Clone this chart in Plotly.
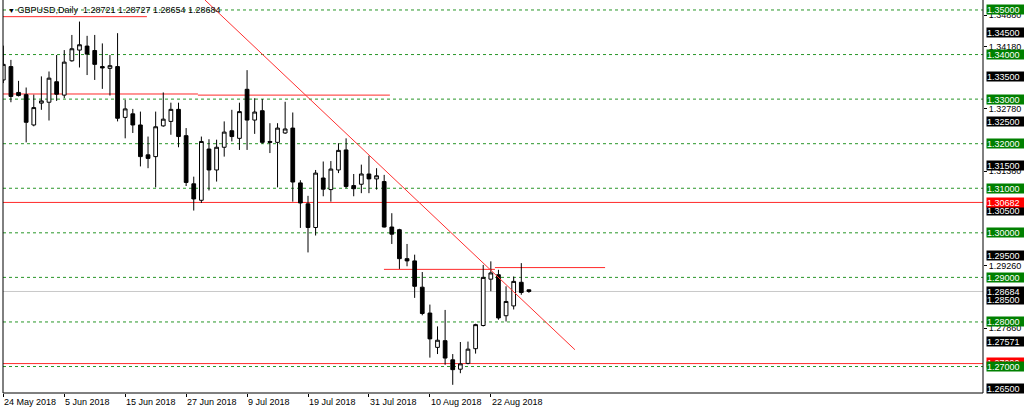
import plotly.graph_objects as go
import pandas as pd

# ---------------- data ----------------
dates = pd.bdate_range("2018-05-24", periods=70)

opens = [1.3343, 1.3373, 1.3315, 1.3310, 1.3242, 1.3291, 1.3293, 1.3339, 1.3309, 1.3386,
         1.3410, 1.3419, 1.3409, 1.3373, 1.3369, 1.3373, 1.3259, 1.3267, 1.3242, 1.3175,
         1.3171, 1.3240, 1.3250, 1.3277, 1.3218, 1.3110, 1.3073, 1.3188, 1.3141, 1.3192,
         1.3229, 1.3212, 1.3322, 1.3253, 1.3274, 1.3205, 1.3203, 1.3224, 1.3235, 1.3112,
         1.3065, 1.3012, 1.3123, 1.3097, 1.3141, 1.3186, 1.3106, 1.3109, 1.3132, 1.3121,
         1.3115, 1.3013, 1.3007, 1.2942, 1.2937, 1.2878, 1.2820, 1.2743, 1.2758, 1.2715,
         1.2694, 1.2707, 1.2740, 1.2792, 1.2896, 1.2906, 1.2814, 1.2836, 1.2889, 1.28721]
highs = [1.3420, 1.3388, 1.3341, 1.3326, 1.3310, 1.3351, 1.3362, 1.3399, 1.3410, 1.3444,
         1.3474, 1.3442, 1.3444, 1.3425, 1.3399, 1.3448, 1.3298, 1.3278, 1.3272, 1.3216,
         1.3272, 1.3315, 1.3292, 1.3292, 1.3235, 1.3126, 1.3216, 1.3210, 1.3209, 1.3250,
         1.3276, 1.3292, 1.3365, 1.3302, 1.3300, 1.3246, 1.3246, 1.3294, 1.3270, 1.3118,
         1.3083, 1.3141, 1.3160, 1.3161, 1.3201, 1.3212, 1.3132, 1.3153, 1.3173, 1.3145,
         1.3130, 1.3044, 1.3009, 1.2975, 1.2951, 1.2912, 1.2839, 1.2790, 1.2827, 1.2728,
         1.2755, 1.2756, 1.2796, 1.2928, 1.2936, 1.2917, 1.2880, 1.2902, 1.2932, 1.28727]
lows = [1.3336, 1.3293, 1.3306, 1.3203, 1.3239, 1.3276, 1.3252, 1.3296, 1.3302, 1.3384,
        1.3371, 1.3354, 1.3343, 1.3323, 1.3308, 1.3250, 1.3212, 1.3224, 1.3149, 1.3145,
        1.3102, 1.3238, 1.3220, 1.3192, 1.3105, 1.3050, 1.3067, 1.3095, 1.3115, 1.3171,
        1.3205, 1.3186, 1.3186, 1.3222, 1.3200, 1.3179, 1.3102, 1.3222, 1.3070, 1.3011,
        1.2956, 1.2994, 1.3082, 1.3070, 1.3134, 1.3100, 1.3082, 1.3089, 1.3089, 1.3097,
        1.3012, 1.2975, 1.2919, 1.2925, 1.2854, 1.2815, 1.2720, 1.2728, 1.2704, 1.2659,
        1.2685, 1.2705, 1.2729, 1.2790, 1.2869, 1.2805, 1.2801, 1.2828, 1.2861, 1.28654]
closes = [1.3378, 1.3306, 1.3308, 1.3248, 1.3281, 1.3296, 1.3347, 1.3311, 1.3383, 1.3413,
          1.3422, 1.3401, 1.3378, 1.3370, 1.3375, 1.3257, 1.3278, 1.3242, 1.3171, 1.3167,
          1.3238, 1.3255, 1.3277, 1.3216, 1.3113, 1.3076, 1.3205, 1.3141, 1.3192, 1.3226,
          1.3216, 1.3272, 1.3253, 1.3271, 1.3203, 1.3203, 1.3235, 1.3233, 1.3114, 1.3067,
          1.3012, 1.3134, 1.3098, 1.3143, 1.3185, 1.3104, 1.3099, 1.3132, 1.3121, 1.3128,
          1.3013, 1.2997, 1.2942, 1.2937, 1.2880, 1.2819, 1.2762, 1.2759, 1.2719, 1.2693,
          1.2706, 1.2739, 1.2794, 1.2900, 1.2910, 1.2809, 1.2846, 1.2891, 1.2866, 1.28684]

bar_index = list(range(len(opens)))
label_bars = [0, 8, 16, 24, 32, 40, 48, 56, 64]
label_texts = [f"{dates[i].day} {dates[i].strftime('%b %Y')}" for i in label_bars]

green_levels = [1.35, 1.34, 1.33, 1.32, 1.31, 1.30, 1.29, 1.28, 1.27]
black_labels = [1.345, 1.335, 1.325, 1.315, 1.305, 1.295, 1.285, 1.265, 1.27571, 1.28684]
scale_labels = [1.3488, 1.3418, 1.3278, 1.3138, 1.2926, 1.2786]
red_labels = [1.2709, 1.30682]
red_full_levels = [1.30682, 1.27066]
bid_level = 1.28684
red_segments = [(-1.0, 18.85, 1.3485), (-1.0, 25.55, 1.33115), (25.55, 50.75, 1.3309),
                (49.97, 64.54, 1.2918), (64.54, 79.0, 1.2922)]
trend_bars = [26.47, 75.04]
trend_prices = [1.35224, 1.27377]

title_text = "GBPUSD,Daily  1.28721 1.28727 1.28654 1.28684"

y_range = [1.26406, 1.35224]
x_range = [-0.04, 128.61]

FONT = "Liberation Sans, Arial, sans-serif"

# ---------------- figure ----------------
fig = go.Figure()

shapes = []
for lv in green_levels:
    shapes.append(dict(type="line", xref="paper", x0=0, x1=1, yref="y", y0=lv, y1=lv,
                       line=dict(color="rgb(40,150,40)", width=1, dash="3px,3px"), layer="below"))
shapes.append(dict(type="line", xref="paper", x0=0, x1=1, yref="y", y0=bid_level, y1=bid_level,
                   line=dict(color="#c8c8c8", width=1), layer="below"))
for lv in red_full_levels:
    shapes.append(dict(type="line", xref="paper", x0=0, x1=1, yref="y", y0=lv, y1=lv,
                       line=dict(color="#ff2a2a", width=1), layer="below"))
for x0, x1, lv in red_segments:
    shapes.append(dict(type="line", xref="x", x0=x0, x1=x1, yref="y", y0=lv, y1=lv,
                       line=dict(color="#ff2a2a", width=1), layer="below"))
# frame
shapes.append(dict(type="line", xref="paper", yref="paper", x0=0, x1=0, y0=0, y1=1,
                   line=dict(color="black", width=1)))
shapes.append(dict(type="line", xref="paper", yref="paper", x0=0, x1=1, y0=0, y1=0,
                   line=dict(color="black", width=1)))
shapes.append(dict(type="line", xref="paper", yref="paper", x0=1, x1=1, y0=0, y1=1,
                   line=dict(color="black", width=1)))

fig.add_trace(go.Scatter(x=trend_bars, y=trend_prices, mode="lines",
                         line=dict(color="#ff3030", width=1), hoverinfo="skip", showlegend=False))

fig.add_trace(go.Candlestick(
    x=bar_index, open=opens, high=highs, low=lows, close=closes,
    increasing=dict(line=dict(color="black", width=1), fillcolor="white"),
    decreasing=dict(line=dict(color="black", width=1), fillcolor="black"),
    whiskerwidth=0, hoverinfo="skip", showlegend=False))

annotations = []


def price_box(v, bg):
    return dict(x=1, xref="paper", xanchor="left", xshift=3, y=v, yref="y", yanchor="middle",
                text=f"{v:.5f}", showarrow=False, bgcolor=bg, width=37, height=9, align="left",
                borderpad=0, font=dict(family=FONT, size=9, color="white"))


for v in black_labels:
    annotations.append(price_box(v, "black"))
for v in red_labels:
    annotations.append(price_box(v, "#ff0000"))
for v in green_levels:
    annotations.append(price_box(v, "#008000"))

for i, t in zip(label_bars, label_texts):
    annotations.append(dict(x=i, xref="x", xanchor="left", xshift=-1, y=0, yref="paper",
                            yanchor="middle", yshift=-9, text=t, showarrow=False,
                            font=dict(family=FONT, size=9, color="black")))

annotations.append(dict(x=0, xref="paper", xanchor="left", xshift=3, y=1, yref="paper",
                        yanchor="middle", yshift=-10, showarrow=False,
                        text="<span style='font-size:7px'>▼</span> " + title_text,
                        font=dict(family=FONT, size=9, color="black")))

fig.update_layout(
    width=1024, height=414,
    margin=dict(l=3, r=41, t=0, b=21),
    paper_bgcolor="white", plot_bgcolor="white",
    showlegend=False,
    shapes=shapes, annotations=annotations,
    xaxis=dict(type="linear", range=x_range, showgrid=False, zeroline=False, showline=False,
               ticks="outside", ticklen=3, tickcolor="black", tickvals=label_bars,
               showticklabels=False, rangeslider=dict(visible=False), fixedrange=True),
    yaxis=dict(side="right", range=y_range, showgrid=False, zeroline=False, showline=False,
               tickvals=scale_labels, ticktext=[f"{v:.5f}" for v in scale_labels],
               ticks="outside", ticklen=3, tickcolor="black",
               tickfont=dict(family=FONT, size=9, color="black"), fixedrange=True),
)

fig.write_html("out.html", config={"displayModeBar": False},
               post_script="document.body.style.margin='0';document.body.style.overflow='hidden';")
